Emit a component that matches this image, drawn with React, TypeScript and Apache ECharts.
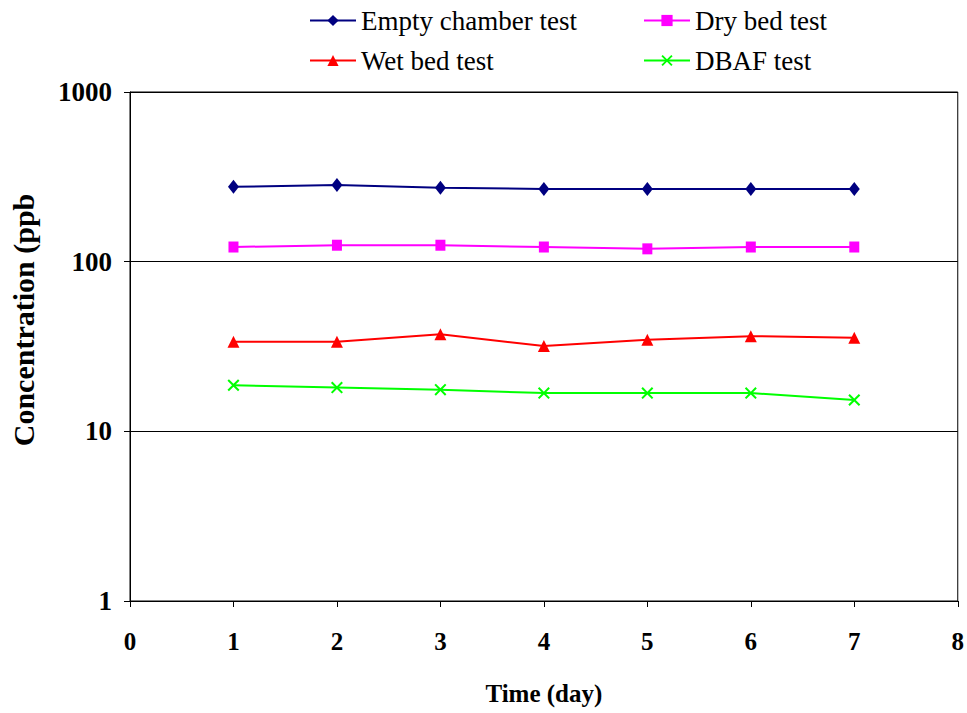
import React, { useEffect, useRef } from "react";
import * as echarts from "echarts";

const days = [1, 2, 3, 4, 5, 6, 7];
const emptyChamber = [276, 283, 273, 268, 268, 268, 268];
const dryBed = [122, 125, 125, 122, 119, 122, 122];
const wetBed = [33.7, 33.7, 37.3, 31.8, 34.7, 36.4, 35.6];
const dbaf = [18.7, 18.1, 17.6, 16.8, 16.8, 16.8, 15.3];
const seriesNames = ["Empty chamber test", "Dry bed test", "Wet bed test", "DBAF test"];

const FONT = "Liberation Serif";
const XMARK = "path://M0,1.2L1.2,0L5,3.8L8.8,0L10,1.2L6.2,5L10,8.8L8.8,10L5,6.2L1.2,10L0,8.8L3.8,5Z";

function pairs(vals: number[]) {
  return days.map((d, i) => [d, vals[i]]);
}

export default function App() {
  const ref = useRef<HTMLDivElement>(null);
  useEffect(() => {
    if (!ref.current) return;
    const chart = echarts.init(ref.current, null, { renderer: "svg" });
    const legendText = { fontFamily: FONT, fontSize: 27, color: "#000" };
    chart.setOption({
      animation: false,
      backgroundColor: "#fff",
      textStyle: { fontFamily: FONT },
      grid: {
        left: 130,
        right: 9,
        top: 92,
        bottom: 112,
        show: true,
        borderColor: "#000",
        borderWidth: 1,
        backgroundColor: "transparent",
      },
      legend: [
        {
          data: [seriesNames[0], seriesNames[2]],
          orient: "vertical",
          left: 304,
          top: 2,
          itemWidth: 46,
          itemHeight: 14,
          itemGap: 13,
          textStyle: legendText,
        },
        {
          data: [seriesNames[1], seriesNames[3]],
          orient: "vertical",
          left: 638,
          top: 2,
          itemWidth: 46,
          itemHeight: 14,
          itemGap: 13,
          textStyle: legendText,
        },
      ],
      graphic: [
        {
          type: "text",
          x: 23,
          y: 320,
          rotation: Math.PI / 2,
          style: {
            text: "Concentration (ppb",
            fontFamily: FONT,
            fontSize: 30,
            fontWeight: "bold",
            fill: "#000",
            align: "center",
            verticalAlign: "middle",
          },
        },
      ],
      xAxis: {
        type: "value",
        min: 0,
        max: 8,
        interval: 1,
        name: "Time (day)",
        nameLocation: "middle",
        nameGap: 80,
        nameTextStyle: { fontFamily: FONT, fontSize: 25, fontWeight: "bold", color: "#000" },
        axisLine: { show: true, onZero: false, lineStyle: { color: "#000", width: 1 } },
        axisTick: { show: true, inside: false, length: 6, lineStyle: { color: "#000" } },
        axisLabel: { fontFamily: FONT, fontSize: 25, fontWeight: "bold", color: "#000", margin: 28 },
        splitLine: { show: false },
      },
      yAxis: {
        type: "log",
        logBase: 10,
        min: 1,
        max: 1000,
        axisLine: { show: true, lineStyle: { color: "#000", width: 1 } },
        axisTick: { show: true, inside: false, length: 6, lineStyle: { color: "#000" } },
        axisLabel: {
          fontFamily: FONT,
          fontSize: 27,
          fontWeight: "bold",
          color: "#000",
          margin: 18,
          formatter: (v: number) => String(Math.round(v)),
        },
        splitLine: { show: true, lineStyle: { color: "#000", width: 1 } },
        minorTick: { show: false },
      },
      series: [
        {
          name: seriesNames[0],
          type: "line",
          data: pairs(emptyChamber),
          symbol: "diamond",
          symbolSize: [11, 14],
          color: "#000080",
          lineStyle: { width: 2, color: "#000080" },
          itemStyle: { color: "#000080" },
        },
        {
          name: seriesNames[1],
          type: "line",
          data: pairs(dryBed),
          symbol: "rect",
          symbolSize: [10, 11],
          color: "#FF00FF",
          lineStyle: { width: 2, color: "#FF00FF" },
          itemStyle: { color: "#FF00FF" },
        },
        {
          name: seriesNames[2],
          type: "line",
          data: pairs(wetBed),
          symbol: "triangle",
          symbolSize: [12, 12],
          color: "#FF0000",
          lineStyle: { width: 2, color: "#FF0000" },
          itemStyle: { color: "#FF0000" },
        },
        {
          name: seriesNames[3],
          type: "line",
          data: pairs(dbaf),
          symbol: XMARK,
          symbolSize: [12, 12],
          color: "#00FF00",
          lineStyle: { width: 2, color: "#00FF00" },
          itemStyle: { color: "#00FF00" },
        },
      ],
    });
    return () => chart.dispose();
  }, []);
  return <div ref={ref} style={{ width: 967, height: 713, position: "absolute", left: 0, top: 0 }} />;
}
